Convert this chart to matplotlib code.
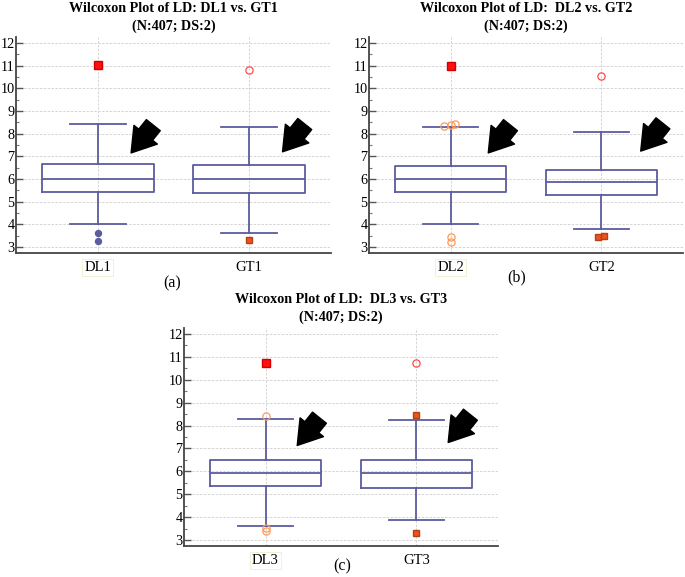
"""Wilcoxon box plots of LD: DL vs. GT for three data sets."""

import matplotlib
matplotlib.use("Agg")
import matplotlib.pyplot as plt

plt.rcParams["font.family"] = ["Liberation Serif", "DejaVu Serif"]

# ---- data ----
titles = [
    "Wilcoxon Plot of LD: DL1 vs. GT1\n(N:407; DS:2)",
    "Wilcoxon Plot of LD:  DL2 vs. GT2\n(N:407; DS:2)",
    "Wilcoxon Plot of LD:  DL3 vs. GT3\n(N:407; DS:2)",
]
panel_tags = ["(a)", "(b)", "(c)"]
labels = [["DL1", "GT1"], ["DL2", "GT2"], ["DL3", "GT3"]]
q1 = [[5.43, 5.40], [5.43, 5.28], [5.34, 5.28]]
med = [[5.99, 6.00], [5.99, 5.87], [5.94, 5.91]]
q3 = [[6.65, 6.60], [6.57, 6.41], [6.51, 6.48]]
whislo = [[4.01, 3.60], [4.00, 3.79], [3.63, 3.89]]
whishi = [[8.41, 8.31], [8.28, 8.07], [8.28, 8.24]]

# outliers: (value, kind, small x jitter)
fliers = {
    "DL1": [(11.01, "far_sq", 0), (3.63, "dot", 0), (3.28, "dot", 0)],
    "GT1": [(10.81, "far_circ", 0), (3.32, "near_sq", 0)],
    "DL2": [(11.00, "far_sq", 0), (8.34, "near_circ", -0.04),
            (8.37, "near_circ", 0), (8.41, "near_circ", 0.03),
            (3.43, "near_circ", 0), (3.24, "near_circ", 0)],
    "GT2": [(10.56, "far_circ", 0), (3.43, "near_sq", -0.02),
            (3.49, "near_sq", 0.015)],
    "DL3": [(10.72, "far_sq", 0), (8.40, "near_circ", 0),
            (3.52, "near_circ", 0), (3.37, "near_circ", 0)],
    "GT3": [(10.72, "far_circ", 0), (8.45, "near_sq", 0), (3.31, "near_sq", 0)],
}

# arrow tips (x offset from box centre, y value)
arrow_dx = [[0.22, 0.22], [0.25, 0.26], [0.21, 0.21]]
arrow_y = [[7.15, 7.20], [7.15, 7.23], [7.13, 7.26]]

BOX_COLOR = "#5c5c9e"
styles = {
    "far_sq": dict(marker="s", mfc="#ff1010", mec="#d00000", ms=5.8),
    "far_circ": dict(marker="o", mfc="none", mec="#ff4a4a", ms=5.2, mew=0.9),
    "near_sq": dict(marker="s", mfc="#e8551e", mec="#b84010", ms=5.0),
    "near_circ": dict(marker="o", mfc="none", mec="#ff9955", ms=5.2, mew=0.9),
    "dot": dict(marker="o", mfc=BOX_COLOR, mec=BOX_COLOR, ms=4.3),
}

fig = plt.figure(figsize=(6.85, 5.77), dpi=100)
W, H = 685.0, 577.0
# axes rectangles in pixels: left, top, right, bottom
rects = [(16, 37, 331, 253), (369, 37, 683, 253), (184, 328, 498, 546)]
tag_pos = [(172, 283), (517, 277), (342, 566)]

for i, (l, t, r, b) in enumerate(rects):
    ax = fig.add_axes([l / W, 1 - b / H, (r - l) / W, (b - t) / H])
    stats = []
    for j in range(2):
        stats.append(dict(med=med[i][j], q1=q1[i][j], q3=q3[i][j],
                          whislo=whislo[i][j], whishi=whishi[i][j],
                          fliers=[], label=labels[i][j]))
    lp = dict(color=BOX_COLOR, linewidth=1.3)
    ax.bxp(stats, positions=[1, 2], widths=0.74, capwidths=0.37,
           boxprops=lp, whiskerprops=lp, capprops=lp, medianprops=lp,
           showfliers=False, zorder=3)
    for j, name in enumerate(labels[i]):
        for val, kind, dx in fliers[name]:
            ax.plot(1 + j + dx, val, linestyle="none", zorder=4, **styles[kind])
        tip = (1 + j + arrow_dx[i][j], arrow_y[i][j])
        ax.annotate("", xy=tip, xytext=(16, 20), textcoords="offset points",
                    arrowprops=dict(arrowstyle="simple,head_length=1.05,"
                                    "head_width=1.35,tail_width=0.8",
                                    mutation_scale=16, color="black",
                                    shrinkA=0, shrinkB=0), zorder=5)

    ax.set_xlim(0.46, 2.54)
    ax.set_ylim(2.735, 12.265)
    ax.set_yticks(range(3, 13))
    ax.set_yticks([k + 0.5 for k in range(3, 12)], minor=True)
    ax.set_xticks([1, 2])
    ax.set_xticklabels(labels[i])
    ax.grid(True, color="#d4d4d4", linestyle=(0, (2.5, 1.5)), linewidth=0.7)
    ax.set_axisbelow(True)
    for s in ("top", "right"):
        ax.spines[s].set_visible(False)
    for s in ("left", "bottom"):
        ax.spines[s].set_color("#444444")
        ax.spines[s].set_linewidth(1.3)
    ax.tick_params(axis="y", which="major", direction="in", length=5,
                   width=1.0, color="#555555", labelsize=10.2, pad=1)
    ax.tick_params(axis="y", which="minor", direction="in", length=2.5,
                   width=0.8, color="#777777")
    ax.tick_params(axis="x", length=0, labelsize=10.5, pad=6)
    xl = ax.get_xticklabels()[0]
    xl.set_bbox(dict(facecolor="none", edgecolor="#efefcf", linewidth=0.6,
                     pad=1.5))
    ax.set_title(titles[i], fontsize=10.2, fontweight="bold", pad=5,
                 linespacing=1.45)
    fig.text(tag_pos[i][0] / W, 1 - tag_pos[i][1] / H, panel_tags[i],
             ha="center", va="center", fontsize=11.5)

fig.savefig("out.png", dpi=100)
